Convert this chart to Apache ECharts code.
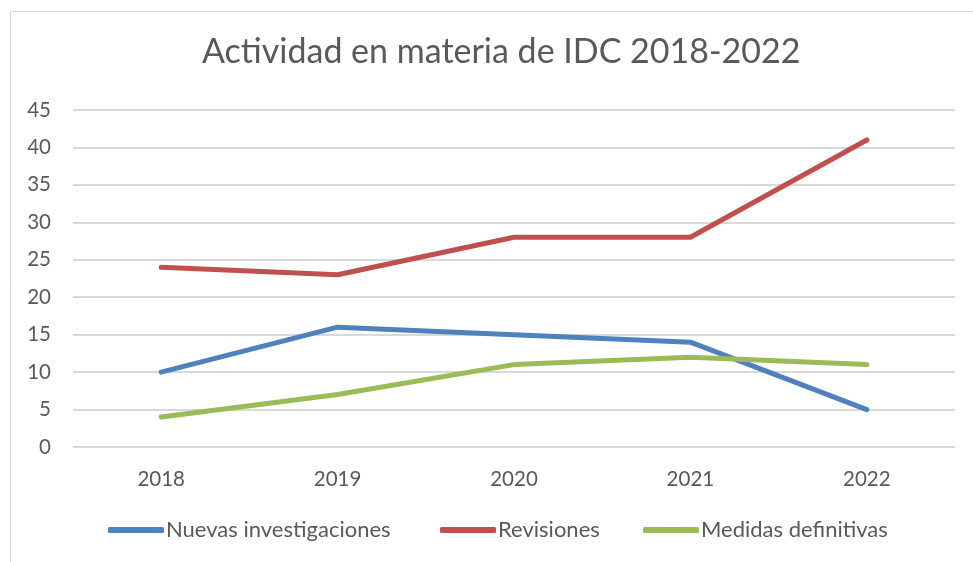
<!DOCTYPE html>
<html>
<head>
<meta charset="utf-8">
<script src="https://cdn.jsdelivr.net/npm/echarts@6/dist/echarts.min.js"></script>
<style>
  html, body { margin: 0; padding: 0; background: #fff; }
  #chart { width: 973px; height: 562px; }
</style>
</head>
<body>
<div id="chart"></div>
<script>
var years = ['2018', '2019', '2020', '2021', '2022'];
var nuevas = [10, 16, 15, 14, 5];
var revisiones = [24, 23, 28, 28, 41];
var medidas = [4, 7, 11, 12, 11];

var txtColor = '#595959';
var fontName = 'Lato, "Open Sans", sans-serif';

function lineSeries(name, data, color) {
    return {
        name: name,
        type: 'line',
        data: data,
        symbol: 'none',
        lineStyle: { color: color, width: 5, cap: 'round', join: 'round' },
        itemStyle: { color: color }
    };
}

function legendAt(name, left) {
    return {
        data: [name],
        left: left,
        top: 519,
        padding: 0,
        icon: 'roundRect',
        itemWidth: 56,
        itemHeight: 6,
        itemGap: 4,
        textStyle: { color: txtColor, fontSize: 22, fontFamily: fontName, padding: [0, 0, 0, -3] }
    };
}

var chart = echarts.init(document.getElementById('chart'));
chart.setOption({
    backgroundColor: '#fff',
    animation: false,
    title: {
        text: 'Actividad en materia de IDC 2018-2022',
        left: 197,
        top: 30,
        textStyle: { color: txtColor, fontSize: 34, fontWeight: 'normal', fontFamily: fontName }
    },
    graphic: [{
        type: 'rect',
        shape: { x: 10.5, y: 11.5, width: 1100, height: 700 },
        style: { fill: 'none', stroke: '#d9d9d9', lineWidth: 1 },
        silent: true
    }],
    legend: [
        legendAt('Nuevas investigaciones', 108),
        legendAt('Revisiones', 440),
        legendAt('Medidas definitivas', 643)
    ],
    grid: { left: 73, right: 18, top: 110, bottom: 115 },
    xAxis: {
        type: 'category',
        data: years,
        boundaryGap: true,
        axisLine: { show: false },
        axisTick: { show: false },
        axisLabel: { color: txtColor, fontSize: 20.5, margin: 22, fontFamily: fontName }
    },
    yAxis: {
        type: 'value',
        min: 0,
        max: 45,
        interval: 5,
        axisLine: { show: false },
        axisTick: { show: false },
        splitLine: { lineStyle: { color: '#d9d9d9', width: 2 } },
        axisLabel: { color: txtColor, fontSize: 20.5, margin: 22, fontFamily: fontName }
    },
    series: [
        lineSeries('Nuevas investigaciones', nuevas, '#4f81bd'),
        lineSeries('Revisiones', revisiones, '#c0504d'),
        lineSeries('Medidas definitivas', medidas, '#9bbb59')
    ]
});
</script>
</body>
</html>
